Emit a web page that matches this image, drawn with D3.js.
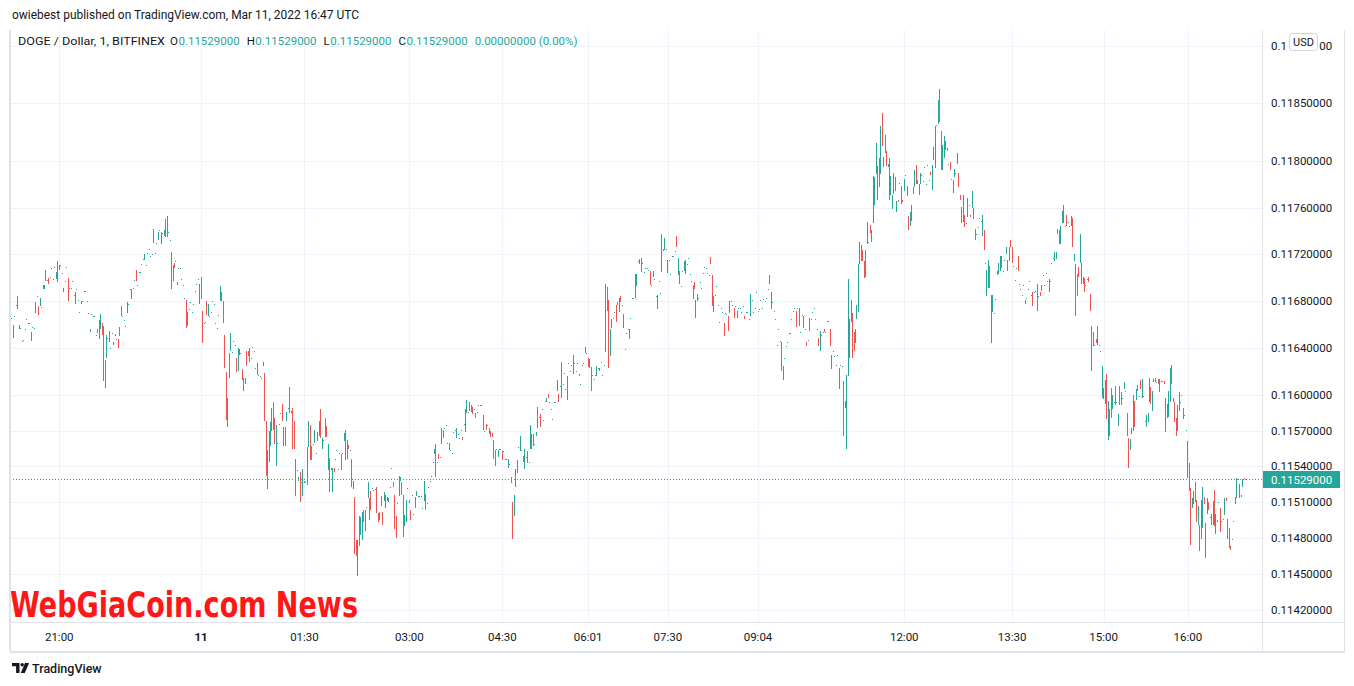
<!DOCTYPE html>
<html><head><meta charset="utf-8">
<script src="https://cdn.jsdelivr.net/npm/d3@7"></script>
<style>
html,body{margin:0;padding:0;background:#fff;}
svg{display:block;font-family:Roboto,"Liberation Sans",sans-serif;}
</style></head><body>
<svg id="c" width="1354" height="686"></svg>
<script>
// price = PRICE_BASE + value * PRICE_UNIT ; each bar = [open, high, low, close]
const PRICE_BASE = 0.11, PRICE_UNIT = 0.00001;

// Mar 10 ~20:30 - 22:45
const barsA = [
[673,673,673,673],[666,666,666,666],[649,660,649,660],[667,667,667,667],[677,677,677,677],[684,684,673,673],[660,660,656,656],[657,657,657,657],
[646,646,646,646],[647,647,647,647],[656,656,656,656],[665,665,665,665],[661,661,661,661],[661,661,661,661],[646,654,646,654],[658,658,658,658],
[657,657,657,657],[670,679,670,679],[684,684,684,684],[676,676,668,668],[676,683,676,683],[675,675,675,675],[690,694,690,694],[691,694,690,693],
[707,707,697,697],[698,698,698,698],[700,700,695,695],[701,701,701,701],[708,708,708,708],[699,699,699,699],[709,709,709,709],[699,705,699,705],
[697,714,696,711],[707,711,707,711],[711,711,711,711],[704,704,704,704],[688,691,688,691],[697,697,697,697],[708,709,708,709],[700,700,680,680],
[691,691,691,691],[691,691,691,691],[697,697,697,697],[685,685,685,685],[678,688,678,688],[690,690,690,690],[681,681,681,681],[671,671,671,671],
[680,680,678,678],[680,680,680,680],[689,689,689,689],[689,689,689,689],[680,680,680,680],[670,670,670,670],[654,656,654,656],[669,669,669,669],
[667,667,667,667],[667,667,667,667],[651,651,651,651],[656,656,653,653],[648,664,648,664],[656,669,656,669],[661,661,651,651],[659,659,612,612],
[630,630,606,608],[632,651,632,651],[649,649,649,649],[645,655,645,655],[640,640,640,640],[653,653,653,653],[645,645,643,643],[650,652,650,652],
[648,648,648,648],[648,648,640,640],[650,658,650,658],[667,676,667,676],[667,667,667,667],[664,664,664,664],[659,659,659,659],[670,679,670,679],
[678,678,678,678],[690,690,690,690],[682,690,682,690],[691,691,691,691],[698,698,698,698],[707,707,697,697],[694,694,694,694],[705,705,705,705],
[705,705,705,705],[712,712,712,712],[716,716,716,716],[715,720,715,720],[711,711,711,711],[721,721,721,721],[725,725,725,725],[719,719,719,719],
[720,720,720,720],[742,742,730,730],[721,721,721,721],[730,730,730,730],[732,739,732,739],[741,741,741,741],[729,739,729,739],[738,738,738,738],
[736,741,736,741],[750,750,735,735],[735,753,735,753]
];
// Mar 10 late evening - Mar 11 ~01:50
const barsB = [
[739,739,739,739],[732,732,732,732],[722,722,690,690],[697,711,697,711],[713,713,708,708],[714,714,714,714],[694,696,694,696],[708,708,708,708],
[708,708,708,708],[699,699,699,699],[694,694,694,694],[683,683,683,683],[681,681,657,657],[659,671,659,671],[673,673,673,673],[679,679,679,679],
[671,671,671,671],[678,678,678,678],[689,689,689,689],[695,695,695,695],[699,699,699,699],[678,695,678,695],[701,701,682,682],[672,672,644,644],
[661,661,661,661],[662,662,662,662],[680,680,668,668],[667,678,667,678],[667,667,667,667],[671,671,671,671],[680,680,680,680],[678,678,678,678],
[661,661,661,661],[657,657,657,657],[668,668,668,668],[680,693,680,693],[680,688,680,688],[680,680,661,661],[651,651,623,623],[620,620,579,579],
[573,598,573,598],[615,636,615,636],[638,653,638,653],[637,637,637,637],[646,646,646,646],[643,643,643,643],[632,632,620,620],[621,640,621,640],
[634,639,634,639],[636,636,636,636],[622,622,613,613],[615,615,604,604],[610,615,610,615],[638,638,625,625],[638,638,633,633],[628,640,628,640],
[632,632,632,632],[641,641,641,641],[638,638,638,638],[623,623,623,623],[627,627,617,617],[617,617,617,617],[616,616,616,616],[615,615,615,615],
[625,628,625,628],[619,619,578,578],[578,578,532,532],[554,554,521,521],[544,570,544,570],[557,577,557,577],[570,589,570,589],[594,594,571,571],
[581,581,559,559],[540,575,540,575],[560,560,560,560],[576,576,576,576],[585,585,585,585],[593,593,578,578],[557,573,557,573],[560,573,557,570],
[578,586,578,586],[589,589,589,589],[607,607,585,585],[585,587,585,587],[589,589,555,555],[578,578,555,555],[546,546,515,515],[537,537,537,537],
[528,531,528,531],[535,535,510,510],[527,527,527,527],[515,538,515,538],[526,528,526,528],[527,527,527,527],[524,556,524,556],[556,578,556,578],
[575,575,545,545],[557,557,545,545],[559,559,559,559],[560,571,560,571],[551,551,551,551],[561,569,561,569],[566,578,566,578],[588,588,564,564],
[555,564,555,564],[562,562,562,562],[581,581,565,565],[574,574,565,565]
];
// Mar 11 ~01:50 - 04:40
const barsC = [
[537,559,537,559],[547,547,518,518],[537,539,537,539],[518,539,518,539],[539,539,535,535],[546,546,546,546],[554,554,554,554],[538,538,538,538],
[551,551,551,551],[550,550,537,537],[551,551,551,551],[561,568,561,568],[571,571,545,545],[546,562,546,562],[558,558,555,555],[554,554,554,554],
[546,546,523,523],[521,528,521,528],[514,514,466,466],[478,478,465,465],[452,478,448,478],[498,498,473,473],[482,497,482,497],[478,502,478,502],
[503,503,493,493],[486,503,486,503],[506,506,506,506],[513,527,513,527],[513,513,495,495],[519,519,503,503],[522,522,522,522],[520,520,520,520],
[520,521,520,521],[523,523,501,501],[501,501,493,493],[495,502,495,502],[507,515,507,515],[502,502,491,491],[511,518,511,518],[505,516,505,516],
[511,514,511,514],[510,513,510,513],[523,523,523,523],[539,539,539,539],[527,527,523,523],[516,516,487,487],[498,498,480,480],[509,509,509,509],
[515,532,515,532],[528,531,528,531],[527,527,516,516],[516,516,481,481],[490,499,490,499],[493,512,493,512],[522,522,522,522],[512,512,509,509],
[503,503,495,495],[516,516,516,516],[500,500,500,500],[514,514,505,505],[515,519,515,519],[515,515,515,515],[515,515,515,515],[515,515,515,515],
[505,505,505,505],[511,528,511,528],[517,517,503,503],[509,509,509,509],[523,523,523,523],[528,528,528,528],[532,532,532,532],[543,544,543,544],
[550,555,550,555],[559,559,531,531],[544,544,544,544],[550,550,546,546],[548,548,548,548],[559,572,559,572],[564,571,564,571],[572,572,572,572],
[575,575,575,575],[560,560,560,560],[560,560,554,554],[554,554,554,554],[551,551,551,551],[569,569,569,569],[571,571,571,571],[564,572,564,572],
[567,567,567,567],[564,564,564,564],[571,571,571,571],[565,565,562,562],[576,576,576,576],[569,588,569,588],[585,596,585,596],[586,586,586,586],
[587,594,587,594],[592,592,586,586],[590,590,584,584],[588,588,588,588],[585,585,581,581],[586,586,586,586],[592,592,592,592],[592,592,592,592],
[592,592,592,592],[571,583,571,583],[570,570,570,570],[576,576,571,571]
];
// Mar 11 ~04:40 - 07:20
const barsD = [
[575,575,575,575],[572,572,567,567],[570,570,565,565],[568,568,565,565],[562,562,546,546],[554,554,540,540],[555,555,555,555],[548,554,548,554],
[555,555,555,555],[555,555,555,555],[553,553,545,545],[553,553,553,553],[546,546,546,546],[546,546,546,546],[539,546,539,546],[542,542,542,542],
[531,531,526,526],[510,510,479,479],[498,516,498,516],[523,538,523,538],[534,545,534,545],[556,556,556,556],[553,566,553,566],[554,554,554,554],
[549,549,544,544],[538,555,538,555],[548,548,548,548],[553,553,543,543],[544,544,544,544],[555,575,555,575],[567,567,555,555],[567,567,557,557],
[559,559,559,559],[566,569,566,569],[572,590,572,590],[582,582,581,581],[584,584,573,573],[588,588,588,588],[579,579,579,579],[595,595,595,595],
[594,598,594,598],[601,601,598,598],[594,594,594,594],[588,588,588,588],[580,580,580,580],[594,594,594,594],[594,594,594,594],[604,613,604,613],
[601,601,594,594],[608,608,608,608],[598,628,598,628],[610,610,610,610],[619,619,619,619],[605,605,605,605],[596,616,596,616],[627,627,627,627],
[621,621,621,621],[626,626,626,626],[618,634,618,634],[627,627,627,627],[621,621,621,621],[627,627,627,627],[618,618,616,616],[610,610,610,610],
[626,626,626,626],[627,627,627,627],[636,641,636,641],[636,636,636,636],[632,632,624,624],[631,631,623,623],[624,624,604,604],[617,617,617,617],
[614,614,614,614],[617,617,617,617],[616,625,616,625],[623,623,623,623],[623,623,621,621],[628,628,628,628],[617,617,617,617],[626,626,626,626],
[637,695,637,695],[692,692,672,672],[681,681,623,623],[633,656,633,656],[665,665,657,657],[666,666,666,666],[671,671,671,671],[677,677,662,662],
[677,679,677,679],[671,683,671,683],[684,684,679,679],[677,677,677,677],[669,669,657,657],[639,639,639,639],[653,653,653,653],[656,656,656,656],
[648,656,648,656],[666,666,666,666],[683,683,683,683],[683,683,683,683],[683,703,683,703],[693,703,693,703],[714,714,714,714],[712,716,712,716],
[717,717,705,705],[713,713,713,713],[705,705,705,705],[708,708,708,708]
];
// Mar 11 ~07:20 - 10:30
const barsE = [
[708,708,708,708],[707,707,707,707],[706,706,694,694],[694,694,694,694],[706,706,701,701],[699,699,699,699],[684,684,684,684],[673,685,673,685],
[697,697,697,697],[687,687,687,687],[705,737,705,737],[725,725,723,723],[724,734,724,734],[725,725,725,725],[704,715,704,715],[715,715,715,715],
[703,703,703,703],[719,719,719,719],[719,719,719,719],[723,723,723,723],[736,736,726,726],[702,717,702,717],[706,706,695,695],[693,693,693,693],
[706,706,706,706],[706,714,706,714],[715,715,703,703],[712,712,712,712],[717,717,717,717],[703,703,703,703],[697,697,697,697],[694,694,682,682],
[696,696,690,690],[681,681,666,666],[680,686,680,686],[683,683,683,683],[696,696,696,696],[691,691,691,691],[704,704,704,704],[709,709,709,709],
[708,708,708,708],[704,704,704,704],[702,702,702,702],[718,718,712,712],[702,702,676,676],[671,684,671,684],[685,685,685,685],[693,693,693,693],
[677,677,676,676],[662,662,662,662],[674,674,674,674],[671,671,671,671],[661,661,650,650],[670,670,670,670],[669,669,669,669],[667,667,655,655],
[670,680,670,680],[680,680,680,680],[677,677,677,677],[674,674,666,666],[676,676,676,676],[666,672,666,672],[674,674,674,674],[674,674,674,674],
[671,671,671,671],[676,676,676,676],[667,667,665,665],[671,671,671,671],[671,671,671,671],[665,665,665,665],[667,686,667,686],[681,681,681,681],
[671,671,671,671],[674,674,674,674],[688,688,688,688],[672,672,672,672],[673,673,673,673],[681,681,681,681],[674,674,674,674],[682,682,682,682],
[680,680,680,680],[683,683,683,683],[690,690,690,690],[702,702,695,695],[673,688,673,688],[679,679,679,679],[672,672,672,672],[665,665,665,665],
[643,643,643,643],[656,656,656,656],[646,646,646,646],[645,645,621,621],[613,625,613,625],[632,632,632,632],[642,642,642,642],[645,645,645,645],
[653,653,653,653],[653,653,653,653],[665,665,665,665],[672,672,672,672],[674,674,674,674],[672,672,658,658],[674,674,674,674],[674,674,659,659],
[654,654,654,654],[668,668,668,668],[657,667,657,667],[656,656,656,656],[645,645,642,642]
];
// Mar 11 ~10:30 - 13:00
const barsF = [
[647,647,647,647],[655,666,655,666],[665,665,665,665],[671,671,671,671],[674,674,674,674],[665,665,665,665],[656,656,656,656],[649,649,642,642],
[638,655,638,655],[651,651,651,651],[654,654,654,654],[656,656,654,654],[654,654,654,654],[663,663,663,663],[663,663,663,663],[656,656,642,642],
[634,634,622,622],[638,638,638,638],[633,633,633,633],[626,626,626,626],[634,634,634,634],[623,623,605,605],[626,626,626,626],[625,625,625,625],
[612,612,566,566],[595,595,589,589],[560,617,555,617],[616,699,616,699],[632,665,632,665],[662,681,662,681],[670,670,632,632],[654,654,638,638],
[656,656,644,644],[665,677,665,677],[671,712,671,712],[712,731,712,731],[728,728,714,714],[724,724,714,714],[714,714,700,700],[701,724,701,724],
[729,748,729,748],[731,731,731,731],[745,745,738,738],[741,741,731,731],[747,787,747,787],[762,786,762,786],[789,816,789,816],[767,796,767,796],
[803,803,778,778],[789,830,789,830],[842,842,813,813],[795,804,795,804],[807,823,807,823],[809,809,796,796],[795,798,795,798],[803,803,767,767],
[771,787,771,787],[759,771,759,771],[772,790,772,790],[786,786,774,774],[756,766,756,766],[767,767,765,765],[781,781,781,781],[779,779,763,763],
[767,767,765,765],[774,785,774,785],[788,788,788,788],[779,779,770,770],[753,753,741,741],[744,756,744,756],[749,762,749,762],[772,778,772,778],
[778,792,778,792],[797,797,780,780],[780,784,780,784],[780,780,771,771],[780,790,780,790],[788,788,788,788],[783,783,783,783],[795,795,795,795],
[780,780,780,780],[797,797,797,797],[784,784,784,784],[791,791,788,788],[775,797,775,797],[801,812,801,812],[794,830,794,830],[831,831,830,830],
[832,853,832,853],[862,862,834,834],[826,826,792,792],[792,814,792,814],[803,822,803,822],[810,817,810,817],[811,811,809,809],[798,798,798,798],
[799,799,792,792],[785,785,785,785],[784,784,773,773],[786,793,786,793],[790,790,790,790],[798,807,798,807],[790,790,778,778],[771,771,767,767],
[747,761,747,761],[748,771,748,771],[754,754,743,743],[747,747,747,747]
];
// Mar 11 ~13:00 - 15:30
const barsG = [
[752,768,752,768],[762,762,762,762],[754,754,752,752],[760,774,760,774],[760,760,750,750],[742,742,732,732],[737,737,737,737],[743,743,743,743],
[751,751,751,751],[749,749,749,749],[736,754,736,754],[741,741,724,724],[713,713,713,713],[684,707,684,707],[691,715,691,715],[710,710,691,691],
[644,685,644,685],[671,685,671,685],[670,670,670,670],[682,682,682,682],[702,706,702,706],[703,713,703,713],[706,719,706,719],[708,719,708,719],
[706,706,706,706],[715,715,715,715],[720,726,720,726],[715,715,706,706],[714,726,714,726],[732,732,726,726],[726,726,713,713],[710,710,710,710],
[698,698,698,698],[708,708,708,708],[719,719,706,706],[695,695,695,695],[690,690,690,690],[685,685,685,685],[694,694,694,694],[678,681,678,681],
[683,683,683,683],[690,690,690,690],[697,697,697,697],[685,685,685,685],[688,688,676,676],[688,688,688,688],[689,689,689,689],[695,695,672,672],
[684,684,684,684],[688,688,684,684],[689,694,689,694],[702,702,702,702],[694,694,694,694],[704,704,704,704],[697,697,697,697],[688,699,688,699],
[697,697,697,697],[713,713,713,713],[717,717,717,717],[714,722,714,722],[716,722,716,722],[737,742,737,742],[741,741,729,729],[729,744,729,744],
[747,757,747,757],[762,762,747,747],[744,744,744,744],[754,754,744,744],[748,748,748,748],[744,744,744,744],[744,753,744,753],[751,751,726,726],
[714,720,714,720],[712,712,667,667],[684,703,684,703],[709,709,701,701],[713,737,713,737],[695,713,695,713],[695,701,695,701],[700,700,688,688],
[694,694,694,694],[699,699,699,699],[701,701,696,696],[686,686,672,672],[659,659,621,621],[642,654,642,654],[643,643,643,643],[648,648,644,644],
[643,659,643,659],[643,643,643,643],[638,638,637,637],[598,625,598,625],[597,606,597,606],[593,613,593,613],[618,618,580,580],[562,595,562,595],
[566,588,566,588],[606,606,581,581],[588,600,588,600],[594,594,594,594],[608,608,592,592],[594,594,594,594],[574,584,574,584],[608,608,592,592],
[603,603,592,592],[598,598,598,598],[605,611,605,611],[604,604,604,604]
];
// Mar 11 ~15:30 - 16:47
const barsH = [
[585,585,566,566],[564,564,539,539],[554,563,554,563],[567,572,567,572],[570,600,570,600],[595,595,573,573],[596,605,596,605],[609,609,604,604],
[599,599,599,599],[613,613,605,605],[598,614,598,614],[599,599,599,599],[577,578,577,578],[573,583,573,583],[577,585,577,585],[594,615,594,615],
[607,607,593,593],[587,604,587,604],[611,614,611,614],[611,615,611,615],[611,611,611,611],[614,614,610,610],[614,614,603,603],[612,612,612,612],
[612,612,612,612],[612,612,610,610],[598,598,569,569],[581,593,581,593],[582,604,582,604],[594,623,594,623],[626,626,610,610],[598,598,594,594],
[594,594,577,577],[581,581,566,566],[570,592,570,592],[587,603,587,603],[594,594,594,594],[600,600,600,600],[589,589,580,580],[583,583,583,583],
[571,571,571,571],[561,561,530,530],[543,543,519,519],[522,522,474,474],[505,513,505,513],[508,519,508,519],[527,527,510,510],[512,512,493,493],
[491,507,491,507],[491,491,469,469],[479,512,479,512],[488,523,488,523],[514,514,508,508],[463,492,463,492],[500,513,500,513],[510,510,503,503],
[497,497,497,497],[491,500,491,500],[491,511,491,511],[520,520,490,490],[483,500,483,500],[493,495,493,495],[510,510,510,510],[505,505,485,485],
[494,494,494,494],[496,496,496,496],[499,513,499,513],[513,513,511,511],[496,496,479,479],[488,488,471,471],[473,473,470,470],[479,479,479,479],
[494,494,494,494],[508,514,508,514],[513,530,513,530],[529,529,529,529],[525,525,513,513],[514,516,514,516],[523,529,523,529],[530,530,529,529],
[529,529,529,529]
];

const yTickValues = [0.1190,0.1185,0.1180,0.1176,0.1172,0.1168,0.1164,0.1160,0.1157,0.1154,0.1151,0.1148,0.1145,0.1142];
const xTickIndex  = [33,129,199,270,333,391,445,506,605,678,740,797];
const xTickLabels = ["21:00","11","01:30","03:00","04:30","06:01","07:30","09:04","12:00","13:30","15:00","16:00"];
const dayBoundaryLabels = ["11"];
const headerText = "owiebest published on TradingView.com, Mar 11, 2022 16:47 UTC";
const symbolText = "DOGE / Dollar, 1, BITFINEX";
const currencyText = "USD";
const watermarkText = "WebGiaCoin.com News";
const footerText = "TradingView";

// ---------- build ----------
const UP = "#26a69a", DOWN = "#ef5350", TEXT = "#131722", GRID = "#f0f3fa", BORDER = "#e0e3eb";
const toP = u => PRICE_BASE + u * PRICE_UNIT;
const raw = [].concat(barsA, barsB, barsC, barsD, barsE, barsF, barsG, barsH);
const bars = raw.map((b, i) => ({i, o: toP(b[0]), h: toP(b[1]), l: toP(b[2]), c: toP(b[3]), cu: b[3]}));
const last = bars[bars.length - 1], prev = bars[bars.length - 2];

const pane = {left: 10, right: 1262, top: 30, bottom: 622};
const axisRight = 1344, frameBottom = 651;
const usdBox = {x: 1289.5, y: 33.5, w: 28, h: 17};

const x = d3.scaleLinear().domain([0, bars.length - 1]).range([10.5, 1245.5]);
const y = d3.scaleLog().domain([0.1142, 0.1190]).range([609.5, 45.6]);

const svg = d3.select("#c");
svg.append("rect").attr("width", 1354).attr("height", 686).attr("fill", "#fff");
svg.append("defs").append("clipPath").attr("id", "pane").append("rect")
  .attr("x", pane.left).attr("y", pane.top).attr("width", pane.right - pane.left).attr("height", pane.bottom - pane.top);

// grid
const grid = svg.append("g").attr("shape-rendering", "crispEdges").attr("stroke", GRID).attr("stroke-width", 1);
grid.selectAll("line.h").data(yTickValues).join("line")
  .attr("x1", pane.left).attr("x2", pane.right)
  .attr("y1", d => Math.round(y(d)) + 0.5).attr("y2", d => Math.round(y(d)) + 0.5);
grid.selectAll("line.v").data(xTickIndex).join("line")
  .attr("y1", pane.top).attr("y2", pane.bottom)
  .attr("x1", d => Math.round(x(d)) + 0.5).attr("x2", d => Math.round(x(d)) + 0.5);

// watermark
svg.append("text").text(watermarkText)
  .attr("x", 10).attr("y", 617)
  .attr("font-family", "'Liberation Sans Narrow','DejaVu Sans Condensed','Liberation Sans',sans-serif")
  .attr("font-weight", "bold").attr("font-size", 35).attr("fill", "#ff1616")
  .attr("textLength", 348).attr("lengthAdjust", "spacingAndGlyphs");

// candles
const cg = svg.append("g").attr("clip-path", "url(#pane)").attr("shape-rendering", "crispEdges");
cg.selectAll("rect").data(bars).join("rect")
  .attr("x", d => Math.round(x(d.i) - 0.5))
  .attr("width", 1)
  .attr("y", d => Math.round(y(d.h)))
  .attr("height", d => Math.max(1, Math.round(y(d.l)) - Math.round(y(d.h))))
  .attr("fill", d => d.c >= d.o ? UP : DOWN);

// last price dotted line
const ly = Math.round(y(last.c)) + 0.5;
svg.append("line").attr("x1", pane.left).attr("x2", pane.right).attr("y1", ly).attr("y2", ly)
  .attr("stroke", UP).attr("stroke-width", 1).attr("stroke-dasharray", "1,2").attr("shape-rendering", "crispEdges");

// frame
const fr = svg.append("g").attr("stroke", BORDER).attr("stroke-width", 1).attr("shape-rendering", "crispEdges").attr("fill", "none");
fr.append("line").attr("x1", 10.5).attr("x2", 10.5).attr("y1", pane.top).attr("y2", frameBottom);
fr.append("line").attr("x1", 9.5).attr("x2", 9.5).attr("y1", pane.top).attr("y2", frameBottom);
fr.append("line").attr("x1", pane.right + 0.5).attr("x2", pane.right + 0.5).attr("y1", pane.top).attr("y2", frameBottom);
fr.append("line").attr("x1", axisRight + 0.5).attr("x2", axisRight + 0.5).attr("y1", pane.top).attr("y2", frameBottom);
fr.append("line").attr("x1", 10).attr("x2", axisRight + 1).attr("y1", pane.bottom + 0.5).attr("y2", pane.bottom + 0.5);
fr.append("line").attr("x1", 10).attr("x2", axisRight + 1).attr("y1", frameBottom + 0.5).attr("y2", frameBottom + 0.5);
fr.append("line").attr("x1", 10).attr("x2", axisRight + 1).attr("y1", frameBottom + 1.5).attr("y2", frameBottom + 1.5);

// price axis labels (the label under the currency box only shows the characters left and right of the box)
const fmt = p => p.toFixed(8);
const pa = svg.append("g").attr("font-size", 11.5).attr("fill", TEXT);
yTickValues.forEach(v => {
  const ty = y(v) + 4;
  const t = pa.append("text").attr("x", 1271).attr("y", ty).text(fmt(v));
  const yc = y(v);
  if (yc > usdBox.y - 4 && yc < usdBox.y + usdBox.h + 4) {
    const node = t.node(), s = fmt(v);
    let pre = "", suf = "", sufX = null;
    for (let k = 0; k < s.length; k++) {
      const st = node.getStartPositionOfChar(k).x, en = node.getEndPositionOfChar(k).x;
      if (en <= usdBox.x) pre += s[k];
      else if (st >= usdBox.x + usdBox.w) { if (sufX === null) sufX = st; suf += s[k]; }
    }
    t.remove();
    if (pre) pa.append("text").attr("x", 1271).attr("y", ty).text(pre);
    if (suf) pa.append("text").attr("x", sufX).attr("y", ty).text(suf);
  }
});

// last price label
svg.append("rect").attr("x", 1263).attr("y", Math.round(y(last.c)) - 8).attr("width", 77).attr("height", 17)
  .attr("fill", UP).attr("shape-rendering", "crispEdges");
svg.append("text").attr("x", 1271).attr("y", y(last.c) + 4.5).attr("font-size", 11.5).attr("fill", "#fff").text(fmt(last.c));

// currency box
svg.append("rect").attr("x", usdBox.x).attr("y", usdBox.y).attr("width", usdBox.w).attr("height", usdBox.h).attr("rx", 3)
  .attr("fill", "#fff").attr("stroke", "#d1d4dc");
svg.append("text").attr("x", usdBox.x + usdBox.w / 2).attr("y", 46).attr("text-anchor", "middle").attr("font-size", 11)
  .attr("fill", TEXT).text(currencyText);

// time axis labels
svg.append("g").selectAll("text").data(xTickIndex).join("text")
  .attr("x", d => x(d)).attr("y", 641).attr("text-anchor", "middle")
  .attr("font-size", 11.5).attr("fill", TEXT)
  .attr("font-weight", (d, i) => dayBoundaryLabels.includes(xTickLabels[i]) ? "bold" : "normal")
  .text((d, i) => xTickLabels[i]);

// header
svg.append("text").attr("x", 12).attr("y", 18.5).attr("font-size", 12).attr("fill", TEXT)
  .attr("textLength", 347).attr("lengthAdjust", "spacingAndGlyphs").text(headerText);

// legend
const lg = svg.append("g").attr("font-size", 11.5);
let cx = 18;
lg.append("text").attr("x", cx).attr("y", 45).attr("fill", TEXT)
  .attr("textLength", 147).attr("lengthAdjust", "spacingAndGlyphs").text(symbolText);
cx += 147 + 5;
const legendItems = [["O", last.o], ["H", last.h], ["L", last.l], ["C", last.c]];
legendItems.forEach(([k, v]) => {
  const tk = lg.append("text").attr("x", cx).attr("y", 45).attr("fill", TEXT).text(k);
  cx += tk.node().getComputedTextLength() + 0.5;
  const tv = lg.append("text").attr("x", cx).attr("y", 45).attr("fill", UP).text(fmt(v));
  cx += tv.node().getComputedTextLength() + 7;
});
const chg = (last.cu - raw[raw.length - 2][3]) * PRICE_UNIT;
const pct = chg / prev.c * 100;
lg.append("text").attr("x", cx).attr("y", 45).attr("fill", UP)
  .text(chg.toFixed(8) + " (" + pct.toFixed(2) + "%)");

// footer logo
const logo = svg.append("g").attr("fill", TEXT);
logo.append("path").attr("d", "M12 663h7.5v10h-3.4v-6.8H12z");
logo.append("circle").attr("cx", 22.2).attr("cy", 664.7).attr("r", 1.7);
logo.append("path").attr("d", "M25 663h4l-4.2 10h-4z");
svg.append("text").attr("x", 32).attr("y", 672.5).attr("font-size", 12.5).attr("font-weight", 500)
  .attr("fill", TEXT).text(footerText);
</script>
</body></html>
